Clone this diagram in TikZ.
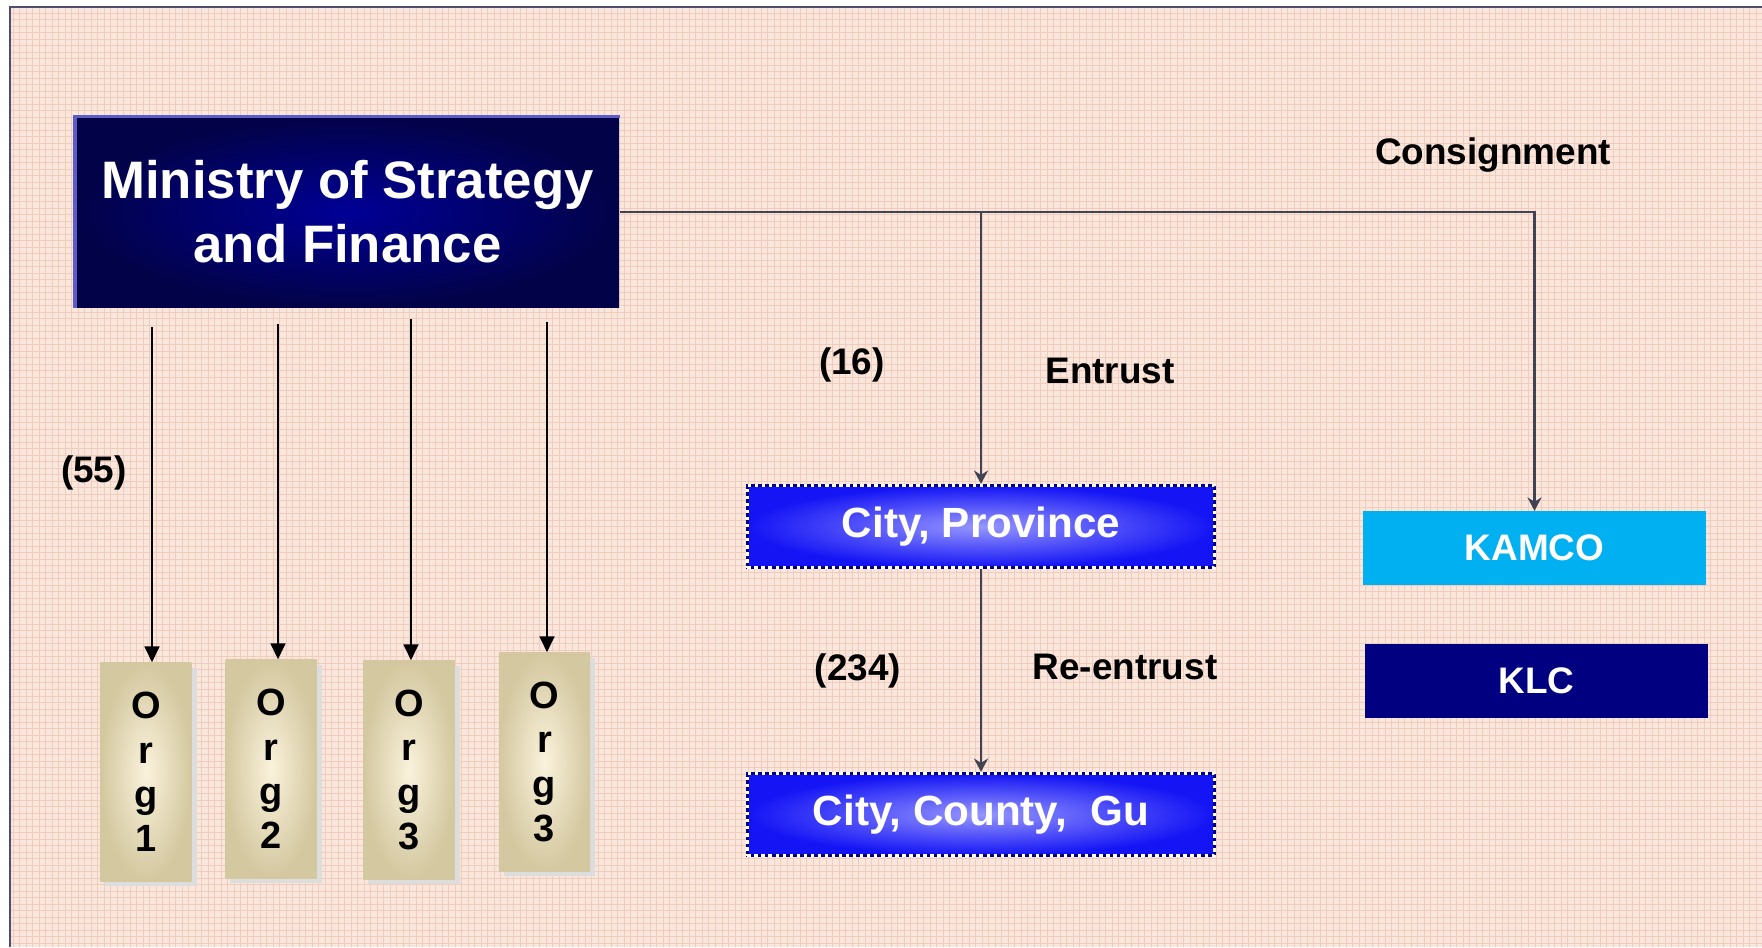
\documentclass[tikz,border=0pt]{standalone}
\usepackage{fontspec}
\setmainfont{Liberation Sans}
\usepackage{xcolor}
\usepackage{tikz}
\usetikzlibrary{arrows.meta,shadows}
\definecolor{krpeach}{RGB}{249,230,220}
\definecolor{krgrid}{RGB}{242,204,186}
\definecolor{krframe}{RGB}{78,78,112}
\definecolor{krline}{RGB}{66,66,82}
\definecolor{krnavy}{RGB}{0,0,128}
\definecolor{krdeep}{RGB}{2,2,72}
\definecolor{krmid}{RGB}{0,0,150}
\definecolor{kredge}{RGB}{92,92,196}
\definecolor{krblue}{RGB}{20,20,245}
\definecolor{krglow}{RGB}{150,150,255}
\definecolor{krcyan}{RGB}{0,176,240}
\definecolor{krtan}{RGB}{212,200,160}
\definecolor{krcream}{RGB}{250,242,220}
\definecolor{krshade}{RGB}{221,221,221}

\begin{document}
\begin{tikzpicture}[x=0.01cm, y=-0.01cm,
    every node/.style={font=\fontsize{10.5}{12.6}\selectfont\bfseries},
    lbl/.style={text=black},
    minbox/.style={rectangle, inner sep=0pt, minimum width=5.43cm, minimum height=1.90cm, inner color=krmid, outer color=krdeep, text=white, align=center, font=\fontsize{15}{18.2}\selectfont\bfseries},
    orgbox/.style={rectangle, inner sep=0pt, minimum width=0.91cm, minimum height=2.18cm, inner color=krcream, outer color=krtan, align=center, drop shadow={shadow xshift=0.05cm, shadow yshift=-0.05cm, fill=krshade, opacity=1}, font=\fontsize{10.8}{12.6}\selectfont\bfseries},
    citybox/.style={rectangle, inner sep=0pt, minimum width=4.67cm, minimum height=0.82cm, inner color=krglow, outer color=krblue, draw=krnavy, line width=0.9pt, postaction={draw=white, line width=0.9pt, dash pattern=on 1pt off 1pt}, text=white, font=\fontsize{12}{14}\selectfont\bfseries},
    agbox/.style={rectangle, inner sep=0pt, minimum width=3.43cm, minimum height=0.73cm, text=white},
    link/.style={draw=krline, line width=0.65pt, -{Stealth[length=3.8pt, width=4pt]}},
    orglink/.style={draw=black, line width=0.6pt, -{Triangle[length=4.5pt, width=4.2pt]}}]

                % Page, grid paper and frame
                \useasboundingbox (0,0) rectangle (1762,947);
                \fill[white] (0,0) rectangle (1762,947);
                \fill[krpeach] (10,7) rectangle (1762,947);
                \draw[krgrid, line width=0.25pt, step=0.065cm] (10,947) grid (1762,7);
                \draw[krframe, line width=0.8pt] (10,947) -- (10,7) -- (1762,7);

                % Ministry box
                \node[minbox] (ministry) at (347.5,212) {Ministry of Strategy\\and Finance};
                \draw[kredge, line width=1pt] (ministry.south west) -- (ministry.north west) -- (ministry.north east);

                % Org boxes
                \node[orgbox] (org1) at (146,772) {O\\r\\g\\1};
                \node[orgbox] (org2) at (271,769) {O\\r\\g\\2};
                \node[orgbox] (org3) at (409,770) {O\\r\\g\\3};
                \node[orgbox] (org4) at (544.5,762) {O\\r\\g\\3};

                % Arrows down to the Org boxes
                \coordinate (top1) at (152,327);
                \coordinate (top2) at (278,324);
                \coordinate (top3) at (411,319);
                \coordinate (top4) at (547,322);
                \draw[orglink] (top1) -- (top1 |- org1.north);
                \draw[orglink] (top2) -- (top2 |- org2.north);
                \draw[orglink] (top3) -- (top3 |- org3.north);
                \draw[orglink] (top4) -- (top4 |- org4.north);

                % City boxes
                \node[citybox] (prov) at (981,526.5) {City, Province};
                \node[citybox] (gu) at (981,814.5) {City, County,\ \ Gu};

                % Agencies
                \node[agbox, fill=krcyan] (kamco) at (1534.5,548) {KAMCO};
                \node[agbox, fill=krnavy] (klc) at (1536.5,681) {KLC};

                % Connectors
                \draw[link] (ministry.east) -| (kamco.north);
                \draw[link] (ministry.east -| prov.north) -- (prov.north);
                \draw[link] (prov.south) -- (gu.north);

                % Labels
                \node[lbl] (n55) at (94,473) {(55)};
                \node[lbl] (n16) at (852,365) {(16)};
                \node[lbl] (entrust) at (1110,371) {Entrust};
                \node[lbl] (consign) at (1493,155) {Consignment};
                \node[lbl] (n234) at (858,671) {(234)};
                \node[lbl] (reentrust) at (1125,667) {Re-entrust};
            \end{tikzpicture}
\end{document}
